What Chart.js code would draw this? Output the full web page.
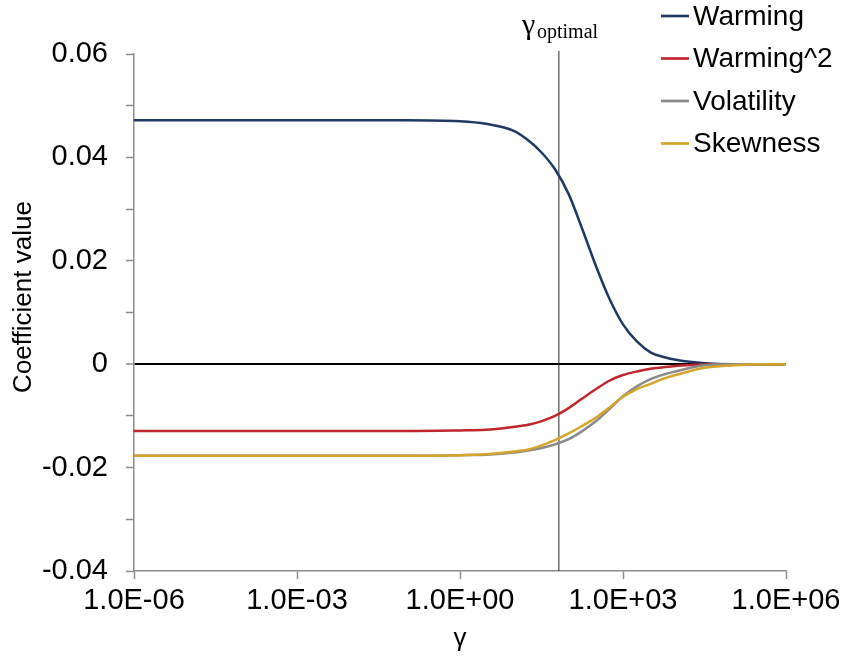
<!DOCTYPE html>
<html>
<head>
<meta charset="utf-8">
<script src="https://cdn.jsdelivr.net/npm/chart.js@4/dist/chart.umd.min.js"></script>
<style>
  html, body { margin: 0; padding: 0; background: #ffffff; }
  canvas { display: block; }
</style>
</head>
<body>
<canvas id="chart" width="846" height="656"></canvas>
<script>
// Penalty parameter grid (log-spaced)
const gamma = [1e-6, 0.1, 1, 3, 10, 18, 32, 56, 100, 180, 320, 560, 1000, 1800, 3200, 5600, 1e4, 3.2e4, 1e5, 3.2e5, 1e6];

// Coefficient paths along the grid
const warming    = [0.0472, 0.0472, 0.0470, 0.0465, 0.0451, 0.0433, 0.0409, 0.0377, 0.0329, 0.0260, 0.0189, 0.0127, 0.0077, 0.0044, 0.0023, 0.0014, 0.0008, 0.0002, 0, 0, 0];
const warmingSq  = [-0.0129, -0.0129, -0.0128, -0.0127, -0.0121, -0.0117, -0.0110, -0.0100, -0.0085, -0.0066, -0.0048, -0.0032, -0.0021, -0.0014, -0.0009, -0.0006, -0.0003, -0.00004, 0, 0, 0];
const volatility = [-0.0177, -0.0177, -0.0176, -0.0175, -0.0171, -0.0167, -0.0162, -0.0155, -0.0145, -0.0129, -0.0110, -0.0087, -0.0062, -0.0043, -0.0029, -0.0020, -0.0013, -0.0002, 0, 0, 0];
const skewness   = [-0.0177, -0.0177, -0.0176, -0.0174, -0.0169, -0.0165, -0.0157, -0.0147, -0.0134, -0.0119, -0.0103, -0.0084, -0.0063, -0.0048, -0.0038, -0.0028, -0.0020, -0.0007, -0.00025, 0, 0];

const seriesNames  = ['Warming', 'Warming^2', 'Volatility', 'Skewness'];
const seriesValues = [warming, warmingSq, volatility, skewness];
const seriesColors = ['#1f3864', '#c0262d', '#8a8a8a', '#d4a52a'];

// Selected penalty value
const gammaOptimal = 66;

// Axis ticks
const xTickValues = [1e-6, 1e-3, 1, 1e3, 1e6];
const xTickLabels = ['1.0E-06', '1.0E-03', '1.0E+00', '1.0E+03', '1.0E+06'];
const yMajorTicks = [-0.04, -0.02, 0, 0.02, 0.04, 0.06];
const yTickLabels = ['-0.04', '-0.02', '0', '0.02', '0.04', '0.06'];
const yMin = -0.04, yMax = 0.06, yStep = 0.01;

const SANS = '"Liberation Sans", Arial, sans-serif';
const SERIF = '"Liberation Serif", "Times New Roman", serif';
const AXIS_GREY = '#8c8c8c';

const datasets = seriesNames.map((name, i) => ({
  label: name,
  data: gamma.map((g, k) => ({ x: g, y: seriesValues[i][k] })),
  borderColor: seriesColors[i],
  backgroundColor: seriesColors[i],
  borderWidth: 2.5,
  pointRadius: 0,
  cubicInterpolationMode: 'monotone',
  fill: false,
  order: seriesNames.length - i
}));

// Vertical marker at the selected gamma
datasets.push({
  label: 'gamma_optimal',
  data: [{ x: gammaOptimal, y: yMin }, { x: gammaOptimal, y: 0.0606 }],
  borderColor: '#262626',
  borderWidth: 1,
  pointRadius: 0,
  fill: false,
  clip: false,
  order: 10
});

const annotations = {
  id: 'annotations',
  afterDraw(chart) {
    const ctx = chart.ctx;
    ctx.save();

    // Legend
    const lx0 = 661, lx1 = 689, tx = 693;
    seriesNames.forEach((name, i) => {
      const y = 16 + i * 42.5;
      ctx.strokeStyle = seriesColors[i];
      ctx.lineWidth = 2.7;
      ctx.beginPath();
      ctx.moveTo(lx0, y);
      ctx.lineTo(lx1, y);
      ctx.stroke();
      ctx.fillStyle = '#000';
      ctx.font = '28px ' + SANS;
      ctx.textAlign = 'left';
      ctx.textBaseline = 'middle';
      ctx.fillText(name, tx, y + 1);
    });

    // gamma_optimal label
    ctx.fillStyle = '#000';
    ctx.textBaseline = 'alphabetic';
    ctx.textAlign = 'left';
    ctx.font = '30px ' + SERIF;
    ctx.fillText('γ', 522, 34);
    ctx.font = '20px ' + SERIF;
    ctx.fillText('optimal', 537, 38);

    // Axis titles
    ctx.font = '26px ' + SANS;
    ctx.textAlign = 'center';
    ctx.fillText('γ', (chart.chartArea.left + chart.chartArea.right) / 2, 646);

    ctx.translate(24, 297);
    ctx.rotate(-Math.PI / 2);
    ctx.textBaseline = 'middle';
    ctx.fillText('Coefficient value', 0, 0);
    ctx.restore();
  }
};

new Chart(document.getElementById('chart'), {
  type: 'line',
  data: { datasets },
  plugins: [annotations],
  options: {
    responsive: false,
    devicePixelRatio: 1,
    animation: false,
    layout: { padding: { top: 54, right: 60, bottom: 0, left: 0 } },
    plugins: {
      legend: { display: false },
      tooltip: { enabled: false }
    },
    scales: {
      x: {
        type: 'logarithmic',
        min: 1e-6,
        max: 1e6,
        afterBuildTicks: (s) => { s.ticks = xTickValues.map(v => ({ value: v })); },
        afterFit: (s) => { s.height = 85; s.paddingLeft = 0; s.paddingRight = 0; },
        ticks: {
          autoSkip: false,
          maxRotation: 0,
          color: '#000',
          padding: 5,
          font: { family: SANS, size: 29 },
          callback: (v, i) => xTickLabels[i]
        },
        grid: {
          drawOnChartArea: false,
          drawTicks: true,
          tickLength: 8,
          tickColor: AXIS_GREY,
          tickWidth: 1.5
        },
        border: { display: true, color: AXIS_GREY, width: 1.5 }
      },
      y: {
        type: 'linear',
        min: yMin,
        max: yMax,
        afterFit: (s) => { s.width = 134; s.paddingTop = 0; s.paddingBottom = 0; },
        ticks: {
          stepSize: yStep,
          autoSkip: false,
          color: '#000',
          padding: 18,
          font: { family: SANS, size: 29 },
          callback: (v) => {
            const k = yMajorTicks.findIndex(m => Math.abs(m - v) < 1e-9);
            return k >= 0 ? yTickLabels[k] : '';
          }
        },
        grid: {
          drawOnChartArea: true,
          drawTicks: true,
          tickLength: 8,
          tickColor: AXIS_GREY,
          tickWidth: 1.5,
          color: (c) => (c.tick && Math.abs(c.tick.value) < 1e-9) ? '#000000' : 'rgba(0,0,0,0)',
          lineWidth: (c) => (c.tick && Math.abs(c.tick.value) < 1e-9) ? 2 : 1
        },
        border: { display: true, color: AXIS_GREY, width: 1.5 }
      }
    }
  }
});
</script>
</body>
</html>
